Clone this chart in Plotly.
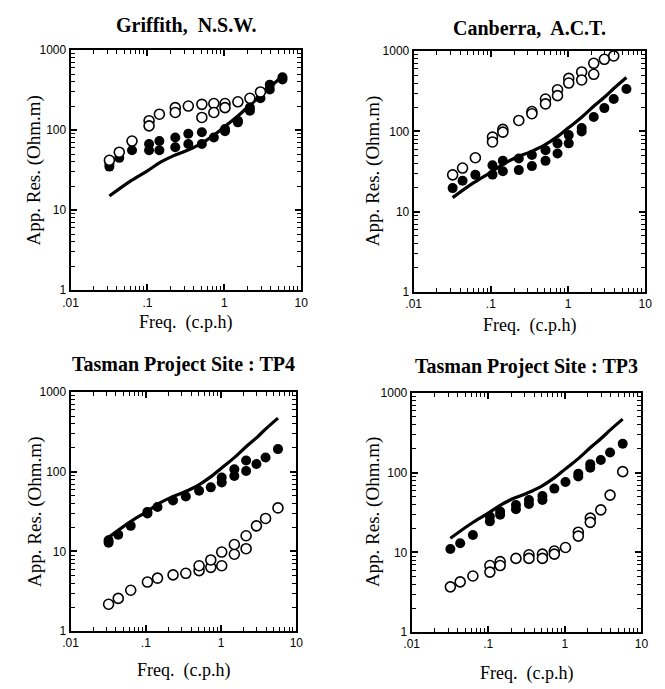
import plotly.graph_objects as go

# ---------------- data ----------------
titles = ["Griffith,  N.S.W.", "Canberra,  A.C.T.",
          "Tasman Project Site : TP4", "Tasman Project Site : TP3"]

x_tickvals = [0.01, 0.1, 1, 10]
x_ticktext = [".01", ".1", "1", "10"]
y_tickvals = [1, 10, 100, 1000]
y_ticktext = ["1", "10", "100", "1000"]

model_f = [0.032, 0.06, 0.1, 0.15, 0.22, 0.33, 0.5, 0.75, 1.0, 1.5, 2.2, 3.0, 4.0, 5.7]
model_rho = [15, 23, 31, 40, 48, 56, 68, 88, 110, 150, 210, 270, 350, 470]

# Griffith
g_open_f = [0.032, 0.043, 0.063, 0.105, 0.105, 0.143, 0.23, 0.23, 0.34, 0.51, 0.51,
            0.73, 0.73, 1.02, 1.02, 1.5, 2.15, 2.95]
g_open_r = [42, 53, 73, 131, 113, 158, 191, 166, 200, 210, 144,
            215, 166, 215, 191, 226, 250, 300]
g_fill_f = [0.032, 0.032, 0.043, 0.063, 0.105, 0.105, 0.143, 0.143, 0.23, 0.23, 0.34, 0.34,
            0.51, 0.51, 0.73, 1.02, 1.02, 1.5, 1.5, 2.15, 2.15, 2.95, 3.9, 3.9, 5.7, 5.7]
g_fill_r = [35, 38, 45, 56, 67, 56, 73, 56, 81, 61, 90, 67,
            94, 67, 81, 103, 97, 131, 125, 191, 175, 250, 370, 323, 457, 430]

# Canberra
c_open_f = [0.032, 0.043, 0.063, 0.105, 0.105, 0.143, 0.143, 0.23, 0.34, 0.34, 0.51, 0.51,
            0.73, 0.73, 1.02, 1.02, 1.5, 1.5, 2.15, 2.15, 2.95, 3.9]
c_open_r = [28.8, 35, 47, 85, 74, 106, 98, 137, 177, 166, 253, 220,
            330, 279, 457, 400, 550, 437, 705, 514, 790, 870]
c_fill_f = [0.032, 0.043, 0.063, 0.105, 0.105, 0.143, 0.143, 0.23, 0.23, 0.34, 0.34,
            0.51, 0.51, 0.73, 0.73, 1.02, 1.02, 1.5, 1.5, 2.15, 2.95, 3.9, 5.7]
c_fill_r = [19.7, 24.3, 28.8, 38, 29, 43, 32, 46, 33, 51, 37,
            58.5, 43, 71, 53, 90, 71, 110, 100, 151, 195, 253, 337]

# TP4
t4_fill_f = [0.032, 0.032, 0.043, 0.063, 0.105, 0.105, 0.143, 0.23, 0.34, 0.51, 0.73,
             1.02, 1.02, 1.5, 1.5, 2.15, 2.15, 2.95, 3.9, 5.7]
t4_fill_r = [12.8, 13.8, 16.2, 20.9, 29.9, 31.3, 36, 43.6, 48.9, 57.8, 63.6,
             73.3, 84.4, 88.4, 107, 102, 138, 125, 151, 192]
t4_open_f = [0.032, 0.043, 0.063, 0.105, 0.143, 0.23, 0.34, 0.51, 0.51, 0.73, 0.73,
             1.02, 1.02, 1.5, 1.5, 2.15, 2.15, 2.95, 3.9, 5.7]
t4_open_r = [2.17, 2.57, 3.25, 4.12, 4.61, 5.07, 5.31, 5.73, 6.6, 6.3, 7.8,
             6.6, 9.8, 9.2, 12.2, 10.8, 15.7, 20.9, 25.9, 35.1]

# TP3
t3_fill_f = [0.032, 0.043, 0.063, 0.105, 0.105, 0.143, 0.143, 0.23, 0.23, 0.34, 0.34,
             0.51, 0.51, 0.73, 1.02, 1.5, 1.5, 2.15, 2.15, 2.95, 3.9, 5.7]
t3_fill_r = [11.0, 13.0, 16.5, 28.2, 24.5, 32.5, 29.6, 39.3, 34.8, 45.3, 40.5,
             50.8, 45.3, 63.1, 76.3, 96.7, 89.6, 128, 115, 144, 179, 231]
t3_open_f = [0.032, 0.043, 0.063, 0.105, 0.105, 0.143, 0.143, 0.23, 0.34, 0.34, 0.51, 0.51,
             0.73, 0.73, 1.02, 1.5, 1.5, 2.15, 2.15, 2.95, 3.9, 5.7]
t3_open_r = [3.69, 4.26, 5.05, 6.83, 5.65, 7.65, 6.83, 8.4, 9.33, 8.4, 9.5, 8.4,
             10.4, 9.5, 11.5, 17.9, 16, 26.9, 23.8, 34.1, 52.3, 103]

panels = [
    (g_open_f, g_open_r, g_fill_f, g_fill_r),
    (c_open_f, c_open_r, c_fill_f, c_fill_r),
    (t4_open_f, t4_open_r, t4_fill_f, t4_fill_r),
    (t3_open_f, t3_open_r, t3_fill_f, t3_fill_r),
]

# ---------------- layout geometry (pixels) ----------------
W, H = 665, 689
frames = [(64, 300, 44, 289), (415, 652, 45, 291), (64, 295, 393, 637), (413, 648, 394, 638)]
title_y = [18, 21, 365, 367]
xtitle_y = [322, 325, 677, 680]
ytitle_x = [27, 373, 27, 373]

minor_vals = [m * 10 ** e for e in range(-2, 3) for m in range(2, 10)]

fig = go.Figure()
annotations = []
serif = "Liberation Serif"
sans = "Liberation Sans"

for i, (of, orr, ff, fr) in enumerate(panels):
    n = "" if i == 0 else str(i + 1)
    xa, ya = "x" + n, "y" + n
    mx = str(i + 5)
    # empty trace so the minor-tick overlay axes get drawn
    fig.add_trace(go.Scatter(x=[], y=[], mode="markers", xaxis="x" + mx, yaxis="y" + mx,
                             showlegend=False, hoverinfo="skip"))
    fig.add_trace(go.Scatter(x=model_f, y=model_rho, mode="lines",
                             line=dict(color="black", width=3.2, shape="spline"),
                             xaxis=xa, yaxis=ya, showlegend=False))
    fig.add_trace(go.Scatter(x=ff, y=fr, mode="markers",
                             marker=dict(symbol="circle", size=10, color="black"),
                             xaxis=xa, yaxis=ya, showlegend=False))
    fig.add_trace(go.Scatter(x=of, y=orr, mode="markers",
                             marker=dict(symbol="circle", size=10, color="white",
                                         line=dict(color="black", width=1.6)),
                             xaxis=xa, yaxis=ya, showlegend=False))
    x0, x1, y0, y1 = frames[i]
    xd = [x0 / W, x1 / W]
    yd = [1 - y1 / H, 1 - y0 / H]
    common = dict(type="log", showline=True, linecolor="black", linewidth=2, mirror="ticks",
                  ticks="inside", ticklen=6, tickwidth=1.5, tickcolor="black",
                  showgrid=False, zeroline=False,
                  tickfont=dict(family=sans, size=12, color="black"))
    fig.layout["xaxis" + n] = dict(common, domain=xd, anchor=ya,
                                   range=[-2, 1], tickvals=x_tickvals, ticktext=x_ticktext)
    fig.layout["yaxis" + n] = dict(common, domain=yd, anchor=xa,
                                   range=[0, 3], tickvals=y_tickvals, ticktext=y_ticktext)
    # overlay axes carrying the minor ticks
    minor_common = dict(type="log", showline=True, linecolor="black", linewidth=2,
                        mirror="ticks", ticks="inside", ticklen=4, tickwidth=1.3,
                        tickcolor="black", showgrid=False, zeroline=False,
                        showticklabels=False, tickmode="array", tickvals=minor_vals)
    fig.layout["xaxis" + mx] = dict(minor_common, domain=xd, anchor="y" + mx,
                                    range=[-2, 1])
    fig.layout["yaxis" + mx] = dict(minor_common, domain=yd, anchor="x" + mx,
                                    range=[0, 3])
    cx = (x0 + x1) / 2
    annotations.append(dict(text="<b>" + titles[i] + "</b>", x=cx / W, y=1 - title_y[i] / H,
                            xref="paper", yref="paper", showarrow=False,
                            font=dict(family=serif, size=20, color="black"),
                            xanchor="center", yanchor="middle"))
    annotations.append(dict(text="Freq.  (c.p.h)", x=cx / W, y=1 - xtitle_y[i] / H,
                            xref="paper", yref="paper", showarrow=False,
                            font=dict(family=serif, size=18, color="black"),
                            xanchor="center", yanchor="middle"))
    annotations.append(dict(text="App. Res. (Ohm.m)", x=ytitle_x[i] / W,
                            y=1 - (y0 + y1) / 2 / H, textangle=-90,
                            xref="paper", yref="paper", showarrow=False,
                            font=dict(family=serif, size=19, color="black"),
                            xanchor="center", yanchor="middle"))

fig.update_layout(width=W, height=H, margin=dict(l=0, r=0, t=0, b=0),
                  paper_bgcolor="white", plot_bgcolor="rgba(0,0,0,0)",
                  font=dict(color="black"),
                  annotations=annotations)

fig.write_html("out.html", config={"displayModeBar": False},
               post_script="document.body.style.margin='0';document.body.style.overflow='hidden';")
